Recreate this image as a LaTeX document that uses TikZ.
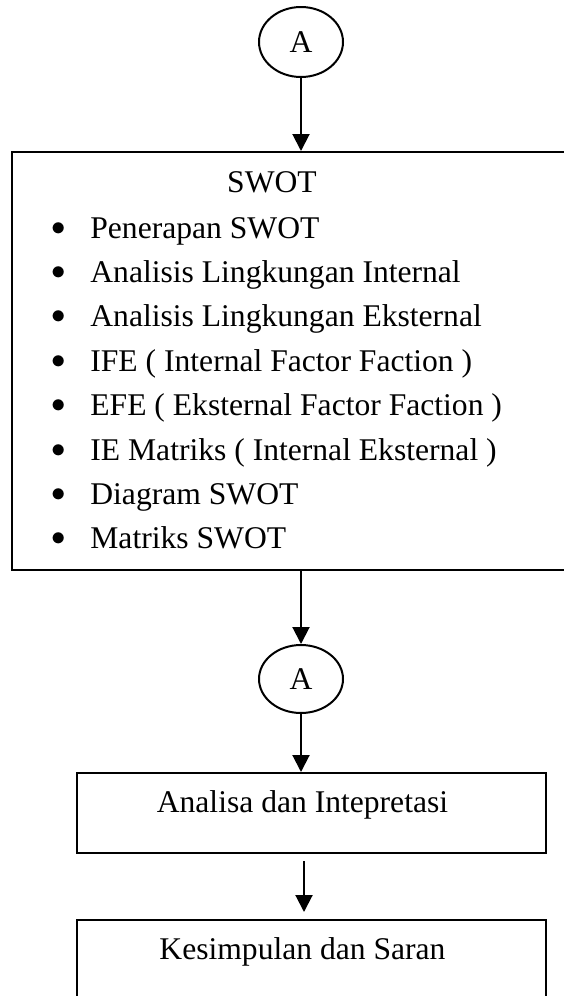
\documentclass[tikz,border=0pt]{standalone}
\usepackage{fontspec}
\setmainfont{Liberation Serif}
\usepackage{tikz}
\usetikzlibrary{shapes.geometric}
\usetikzlibrary{arrows.meta}
\tikzset{every edge/.style={draw, line width=1pt}}
\tikzset{>={Triangle[length=8.5pt,width=8.5pt]}}
\tikzset{conn/.style={draw, ellipse, line width=1pt, inner sep=0pt, minimum width=42pt, minimum height=35pt}}
\tikzset{box/.style={draw, line width=1pt, inner sep=0pt, text height=10.7pt, text depth=11.5pt}}
\tikzset{item/.style={anchor=base west, inner sep=0pt}}
\newcommand{\itemdot}{\makebox[19.5pt][l]{\raisebox{1.5pt}{$\bullet$}}}

\begin{document}
\begin{tikzpicture}[x=0.5pt, y=-0.5pt, font=\fontsize{15.8}{19}\selectfont]
    \useasboundingbox (0,0) rectangle (563,996);
    \node[conn] at (301, 42) (A1) {A};
    \node[box, minimum width=284pt, minimum height=209pt] at (296, 361) (swot) {};
    \node[anchor=base, inner sep=0pt] at (272, 192) (ttl) {SWOT};
    \node[conn, minimum height=34pt] at (301, 679) (A2) {A};
    \node[box, minimum width=234.5pt, minimum height=40pt] at (311.5, 813) (ana) {\hspace*{-9pt}Analisa dan Intepretasi};
    \node[box, minimum width=234.5pt, minimum height=40pt] at (311.5, 960) (kes) {\hspace*{-9pt}Kesimpulan dan Saran};

    % isi kotak SWOT
    \node[item] at (51, 238) (p1) {\itemdot Penerapan SWOT};
    \node[item] at (51, 282.4) (p2) {\itemdot Analisis Lingkungan Internal};
    \node[item] at (51, 326.8) (p3) {\itemdot Analisis Lingkungan Eksternal};
    \node[item] at (51, 371.2) (p4) {\itemdot IFE ( Internal Factor Faction )};
    \node[item] at (51, 415.6) (p5) {\itemdot EFE ( Eksternal Factor Faction )};
    \node[item] at (51, 460) (p6) {\itemdot IE Matriks ( Internal Eksternal )};
    \node[item] at (51, 504.4) (p7) {\itemdot Diagram SWOT};
    \node[item] at (51, 548.8) (p8) {\itemdot Matriks SWOT};

    \draw (A1) edge[->] (A1 |- swot.north);
    \draw (A1 |- swot.south) edge[->] (A2);
    \draw (A2) edge[->] (A2 |- ana.north);
    \draw ([xshift=1.5pt]A2 |- ana.south) edge[->, shorten <=3.5pt, shorten >=3.5pt] ([xshift=1.5pt]A2 |- kes.north);
\end{tikzpicture}
\end{document}
